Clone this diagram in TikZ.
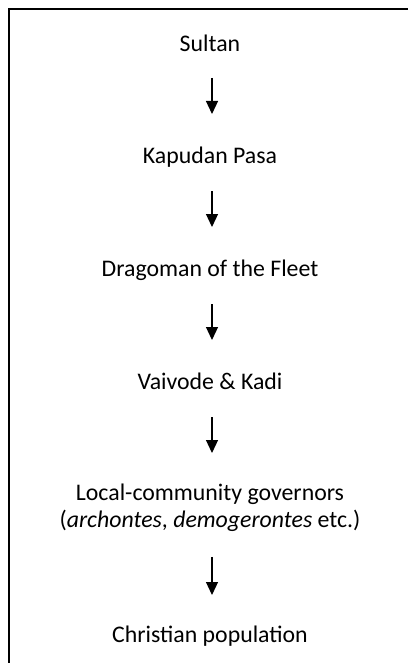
\documentclass[tikz,border=0pt]{standalone}
\usepackage{fontspec}
\setmainfont{Carlito}
\usetikzlibrary{arrows.meta}

\begin{document}
\begin{tikzpicture}[x=1bp,y=1bp,
    rank/.style={inner sep=0pt,font=\fontsize{23.9pt}{27pt}\selectfont},
    flow/.style={line width=1.2bp,-{Triangle[width=12bp,length=13bp]}}]
    % Page size and the frame (cut off at the right and at the bottom)
    \useasboundingbox (0,0) rectangle (407,-663);
    \draw[line width=2.6bp] (420,-9) -- (9,-9) -- (9,-680);

    % The ranks, top to bottom
    \node[rank,anchor=base] (sultan) at (210,-52) {Sultan};
    \node[rank,anchor=base] (kapudan) at (210,-163) {Kapudan Pasa};
    \node[rank,anchor=base] (dragoman) at (210,-276) {Dragoman of the Fleet};
    \node[rank,anchor=base] (vaivode) at (210,-389) {Vaivode \& Kadi};
    \node[rank,anchor=north,align=center] (governors) at (210,-484)
        {Local-community governors\\(\textit{archontes}, \textit{demogerontes} etc.)};
    \node[rank,anchor=base] (christians) at (210,-642) {Christian population};

    % Arrows between the ranks
    \draw[flow] ([shift={(2,-26)}]sultan.base) -- ([shift={(2,49)}]kapudan.base);
    \draw[flow] ([shift={(2,-28)}]kapudan.base) -- ([shift={(2,49)}]dragoman.base);
    \draw[flow] ([shift={(2,-28)}]dragoman.base) -- ([shift={(2,49)}]vaivode.base);
    \draw[flow] ([shift={(2,-28)}]vaivode.base) -- ([shift={(2,31)}]governors.north);
    \draw[flow] ([shift={(2,-25)}]governors.south) -- ([shift={(2,47)}]christians.base);

\end{tikzpicture}
\end{document}
